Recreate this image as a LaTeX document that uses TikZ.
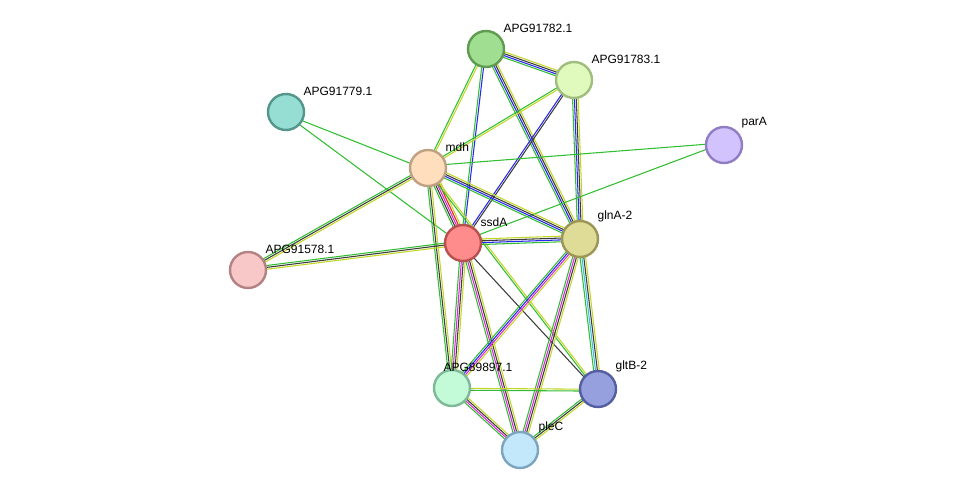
\documentclass[tikz,border=0pt]{standalone}
\usepackage{fontspec}
\setmainfont{Liberation Sans}
\usetikzlibrary{calc}
\definecolor{e_green}{RGB}{50,190,50}
\definecolor{e_blue}{RGB}{40,40,240}
\definecolor{e_black}{RGB}{60,60,60}
\definecolor{e_yellow}{RGB}{195,215,40}
\definecolor{e_magenta}{RGB}{220,40,220}
\definecolor{e_red}{RGB}{240,30,30}
\definecolor{e_cyan}{RGB}{60,190,230}
\pgfdeclarelayer{bg}
\pgfsetlayers{bg,main}
\newcommand\sedge[3]{%
  \begin{pgfonlayer}{bg}
  \foreach \c [count=\i] in {#3} {
    \pgfmathsetmacro\o{(\i-1)*1.4-1.6}
    \draw[\c, line width=0.8pt] ($(#1)!\o pt!90:(#2)$) -- ($(#2)!\o pt!-90:(#1)$);
  }
  \end{pgfonlayer}}

\begin{document}
\begin{tikzpicture}[x=0.75pt,y=-0.75pt]
    \tikzstyle{prot}=[circle, minimum size=27pt, line width=1.8pt, inner sep=0pt]
    \tikzstyle{lbl}=[font=\fontsize{9}{10}\selectfont, anchor=south west, inner sep=1pt]
    \useasboundingbox (0,0) rectangle (976,496);

    \node[prot, fill={rgb,255:red,160;green,222;blue,145}, draw={rgb,255:red,95;green,155;blue,80}] (p782) at (486,49) {};
    \node[prot, fill={rgb,255:red,224;green,250;blue,190}, draw={rgb,255:red,160;green,190;blue,125}] (p783) at (574,80) {};
    \node[prot, fill={rgb,255:red,150;green,222;blue,212}, draw={rgb,255:red,85;green,150;blue,140}] (p779) at (286,112) {};
    \node[prot, fill={rgb,255:red,210;green,195;blue,255}, draw={rgb,255:red,145;green,125;blue,195}] (para) at (724,145) {};
    \node[prot, fill={rgb,255:red,255;green,222;blue,190}, draw={rgb,255:red,190;green,160;blue,130}] (mdh) at (428,168) {};
    \node[prot, fill={rgb,255:red,255;green,140;blue,140}, draw={rgb,255:red,185;green,80;blue,80}] (ssda) at (463,243) {};
    \node[prot, fill={rgb,255:red,222;green,220;blue,150}, draw={rgb,255:red,155;green,150;blue,85}] (glna) at (580,239) {};
    \node[prot, fill={rgb,255:red,248;green,200;blue,200}, draw={rgb,255:red,180;green,130;blue,130}] (p578) at (248,270) {};
    \node[prot, fill={rgb,255:red,195;green,250;blue,215}, draw={rgb,255:red,125;green,185;blue,150}] (p897) at (452,388) {};
    \node[prot, fill={rgb,255:red,150;green,160;blue,222}, draw={rgb,255:red,85;green,95;blue,160}] (gltb) at (598,389) {};
    \node[prot, fill={rgb,255:red,195;green,232;blue,252}, draw={rgb,255:red,125;green,165;blue,190}] (plec) at (520,450) {};

    \node[lbl] at (502,34) {APG91782.1};
    \node[lbl] at (590,65) {APG91783.1};
    \node[lbl] at (302,97) {APG91779.1};
    \node[lbl] at (740,130) {parA};
    \node[lbl] at (444,153) {mdh};
    \node[lbl] at (479,228) {ssdA};
    \node[lbl] at (596,224) {glnA-2};
    \node[lbl] at (264,255) {APG91578.1};
    \node[lbl] at (442,373) {APG89897.1};
    \node[lbl] at (614,374) {gltB-2};
    \node[lbl] at (537,435) {pleC};

    \sedge{p782}{p783}{e_green,e_blue,e_black,e_yellow}
    \sedge{p782}{mdh}{e_green,e_yellow}
    \sedge{p782}{ssda}{e_green,e_blue}
    \sedge{p782}{glna}{e_green,e_blue,e_black,e_yellow}
    \sedge{p783}{mdh}{e_green,e_yellow}
    \sedge{p783}{ssda}{e_blue,e_black}
    \sedge{p783}{glna}{e_green,e_blue,e_black,e_yellow}
    \sedge{p779}{mdh}{e_green}
    \sedge{p779}{ssda}{e_green}
    \sedge{para}{mdh}{e_green}
    \sedge{para}{ssda}{e_green}
    \sedge{mdh}{ssda}{e_green,e_black,e_magenta,e_red,e_yellow}
    \sedge{mdh}{glna}{e_green,e_blue,e_black,e_yellow}
    \sedge{mdh}{p578}{e_green,e_black,e_yellow}
    \sedge{mdh}{p897}{e_green,e_black,e_yellow}
    \sedge{mdh}{gltb}{e_green,e_yellow}
    \sedge{ssda}{glna}{e_green,e_blue,e_black,e_yellow}
    \sedge{ssda}{p578}{e_green,e_black,e_yellow}
    \sedge{ssda}{p897}{e_green,e_magenta,e_black,e_yellow}
    \sedge{ssda}{plec}{e_green,e_magenta,e_black,e_yellow}
    \sedge{ssda}{gltb}{e_black}
    \sedge{glna}{p897}{e_green,e_blue,e_magenta,e_yellow}
    \sedge{glna}{plec}{e_green,e_magenta,e_black,e_yellow}
    \sedge{glna}{gltb}{e_green,e_cyan,e_black,e_yellow}
    \sedge{p897}{gltb}{e_green,e_yellow}
    \sedge{p897}{plec}{e_green,e_magenta,e_black,e_yellow}
    \sedge{gltb}{plec}{e_green,e_black,e_yellow}
\end{tikzpicture}
\end{document}
